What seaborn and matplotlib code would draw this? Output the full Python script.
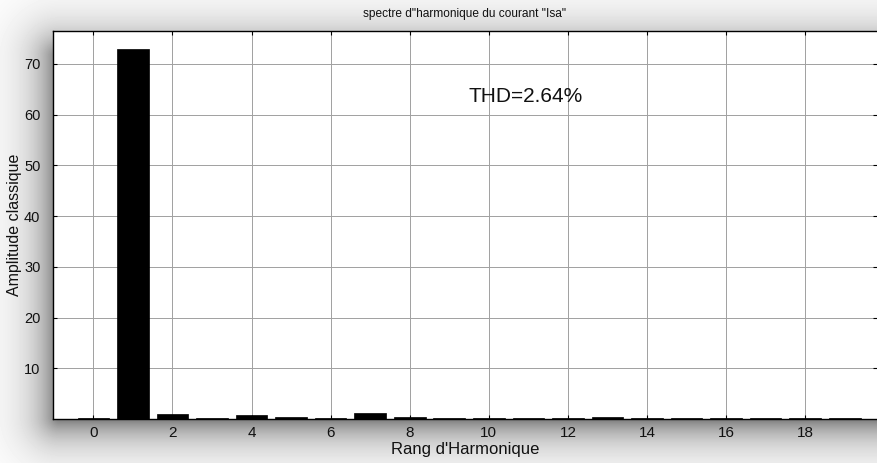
import numpy as np
import pandas as pd
import matplotlib
matplotlib.use("Agg")
import matplotlib.pyplot as plt
import seaborn as sns

# data
harmonics = list(range(20))
amplitudes = [0.2, 73.0, 1.0, 0.1, 0.8, 0.3, 0.2, 1.2, 0.3, 0.1,
              0.2, 0.2, 0.2, 0.4, 0.1, 0.1, 0.2, 0.2, 0.1, 0.2]
xtick_vals = [0, 2, 4, 6, 8, 10, 12, 14, 16, 18]
ytick_vals = [10, 20, 30, 40, 50, 60, 70]
title = 'spectre d"harmonique du courant "Isa"'
xlabel = "Rang d'Harmonique"
ylabel = "Amplitude classique"
thd_text = "THD=2.64%"

sns.set_theme(style="white")
plt.rcParams['font.family'] = ['Liberation Sans', 'DejaVu Sans']

W, H = 878, 463
fig = plt.figure(figsize=(W / 100, H / 100), dpi=100)

# background with soft drop shadow around the axes
L, R, T, B = 53, 878, 31, 419
yy, xx = np.mgrid[0:H, 0:W]
sl, st, sb = L + 6, T + 25, B - 3
dx = np.maximum(np.maximum(sl - xx, xx - R), 0)
dy = np.maximum(np.maximum(st - yy, yy - sb), 0)
d = np.sqrt(dx ** 2 + dy ** 2)
shadow = 0.58 * np.exp(-d / 23.0)
gray = 1 - shadow
bg = fig.add_axes([0, 0, 1, 1], zorder=-10)
bg.imshow(gray, cmap='gray', vmin=0, vmax=1, aspect='auto', interpolation='bilinear')
bg.axis('off')

ax = fig.add_axes([L / W, 1 - B / H, (R - L) / W - 0.001, (B - T) / H])
ax.set_facecolor('white')

df = pd.DataFrame({"harm": harmonics, "amp": amplitudes})
sns.barplot(data=df, x="harm", y="amp", color="black", width=0.8,
            native_scale=True, ax=ax, saturation=1, edgecolor="black", linewidth=0.5)

ax.set_xlim(-1.02, 19.82)
ax.set_ylim(0, 76.5)
ax.set_xticks(xtick_vals)
ax.set_xticklabels([str(v) for v in xtick_vals])
ax.set_yticks(ytick_vals)
ax.set_yticklabels([str(v) for v in ytick_vals])
ax.grid(True, color='#a0a0a0', linewidth=0.7, linestyle='-')
ax.set_axisbelow(True)
ax.tick_params(direction='in', length=3, width=0.8, color='black',
               top=True, right=True, bottom=True, left=True,
               labelcolor='#111111')
ax.tick_params(axis='x', pad=5, labelsize=11)
ax.tick_params(axis='y', pad=9, labelsize=10.5)
for s in ['left', 'bottom', 'top']:
    ax.spines[s].set_visible(True)
    ax.spines[s].set_color('black')
    ax.spines[s].set_linewidth(1.0)
ax.spines['right'].set_visible(False)

ax.set_xlabel(xlabel, fontsize=12, color='#111111')
ax.xaxis.set_label_coords(0.5, -0.058)
ax.set_ylabel(ylabel, fontsize=11.5, color='#111111')
ax.yaxis.set_label_coords(-0.038, 0.5)
ax.set_title(title, fontsize=8.6, pad=10, color='#111111')

ax.text(9.48, 63.6, thd_text, fontsize=15, va='center', ha='left', color='#111111')

fig.savefig("out.png", dpi=100)
